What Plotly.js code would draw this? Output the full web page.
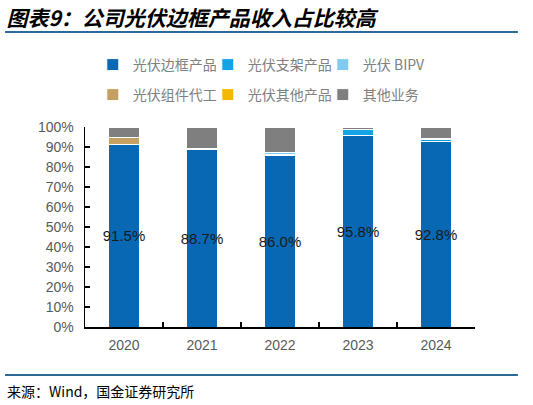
<!DOCTYPE html>
<html>
<head>
<meta charset="utf-8">
<script src="https://cdn.plot.ly/plotly-3.0.1.min.js"></script>
<style>
  html, body { margin: 0; padding: 0; background: #fff; }
  #chart { width: 533px; height: 405px; }
</style>
</head>
<body>
<div id="chart"></div>
<script>
// years and revenue share (%) by segment
const years = ['2020', '2021', '2022', '2023', '2024'];
const frameShare   = [91.5, 88.7, 86.0, 95.8, 92.8];  // 光伏边框产品
const mountShare   = [0.0, 0.0, 0.3, 2.8, 1.0];       // 光伏支架产品
const bipvShare    = [0.0, 0.6, 1.0, 0.4, 0.4];       // 光伏 BIPV
const oemShare     = [3.5, 0.0, 0.0, 0.0, 0.0];       // 光伏组件代工
const otherPvShare = [0.0, 0.0, 0.0, 0.0, 0.0];       // 光伏其他产品
const otherBizShare = [5.0, 10.7, 12.7, 1.0, 5.8];    // 其他业务

const seriesNames = ['光伏边框产品', '光伏支架产品', '光伏 BIPV', '光伏组件代工', '光伏其他产品', '其他业务'];
const seriesColors = ['#0868b4', '#14a3e6', '#7fcaf0', '#c4a062', '#f2b800', '#7f7f7f'];
const seriesValues = [frameShare, mountShare, bipvShare, oemShare, otherPvShare, otherBizShare];

const traces = seriesValues.map((vals, i) => ({
    type: 'bar',
    x: years,
    y: vals,
    name: seriesNames[i],
    legend: i < 3 ? 'legend' : 'legend2',
    marker: { color: seriesColors[i], line: { color: '#ffffff', width: 1 } },
    hoverinfo: 'skip'
}));

// value labels on the main segment only
traces[0].text = frameShare.map(v => v.toFixed(1) + '%');
traces[0].textposition = 'inside';
traces[0].insidetextanchor = 'middle';
traces[0].constraintext = 'none';
traces[0].textangle = 0;
traces[0].textfont = { family: 'Liberation Sans, Arial, sans-serif', size: 15, color: '#1a1a1a' };

const cjk = '"Noto Sans CJK SC", "Liberation Sans", sans-serif';
const legendFont = { family: cjk, size: 14, color: '#808080' };

const layout = {
    width: 533,
    height: 405,
    margin: { l: 85, r: 58, t: 127, b: 78 },
    paper_bgcolor: '#ffffff',
    plot_bgcolor: '#ffffff',
    barmode: 'stack',
    bargap: 0.61,
    font: { family: 'Liberation Sans, Arial, sans-serif', size: 14, color: '#595959' },
    title: {
        text: '图表9：公司光伏边框产品收入占比较高',
        xref: 'container', yref: 'container',
        x: 0.012, xanchor: 'left',
        y: 0.955, yanchor: 'middle',
        font: { family: cjk, size: 21, color: '#000000', weight: 'bold', style: 'italic' }
    },
    xaxis: {
        type: 'category',
        showline: true, linecolor: '#000000', linewidth: 1.5,
        ticks: 'inside', tickson: 'boundaries', ticklen: 5, tickcolor: '#000000', tickwidth: 1.5,
        tickfont: { size: 14, color: '#595959' },
        ticklabelstandoff: 5,
        showgrid: false, zeroline: false, fixedrange: true
    },
    yaxis: {
        range: [0, 100],
        dtick: 10,
        ticksuffix: '%',
        showline: true, linecolor: '#000000', linewidth: 1.5,
        ticks: 'inside', ticklen: 5, tickcolor: '#000000', tickwidth: 1.5,
        tickfont: { size: 14, color: '#595959' },
        ticklabelstandoff: 7,
        showgrid: false, zeroline: false, fixedrange: true
    },
    legend: {
        orientation: 'h', x: 0.02, xanchor: 'left', y: 1.31, yanchor: 'middle',
        font: legendFont, entrywidth: 70, traceorder: 'normal',
        bgcolor: 'rgba(0,0,0,0)'
    },
    legend2: {
        orientation: 'h', x: 0.02, xanchor: 'left', y: 1.16, yanchor: 'middle',
        font: legendFont, entrywidth: 70, traceorder: 'normal',
        bgcolor: 'rgba(0,0,0,0)'
    },
    shapes: [
        { type: 'line', xref: 'paper', yref: 'paper', x0: -0.205, x1: 1.11, y0: 1.475, y1: 1.475,
          line: { color: '#2b6a96', width: 2 } },
        { type: 'line', xref: 'paper', yref: 'paper', x0: -0.205, x1: 1.11, y0: -0.24, y1: -0.24,
          line: { color: '#2b6a96', width: 2 } }
    ],
    annotations: [
        { text: '来源：Wind，国金证券研究所', xref: 'paper', yref: 'paper',
          x: -0.205, xanchor: 'left', y: -0.32, yanchor: 'middle', showarrow: false,
          font: { family: cjk, size: 14, color: '#000000' } }
    ]
};

Plotly.newPlot('chart', traces, layout, { displayModeBar: false, staticPlot: true });
</script>
</body>
</html>
